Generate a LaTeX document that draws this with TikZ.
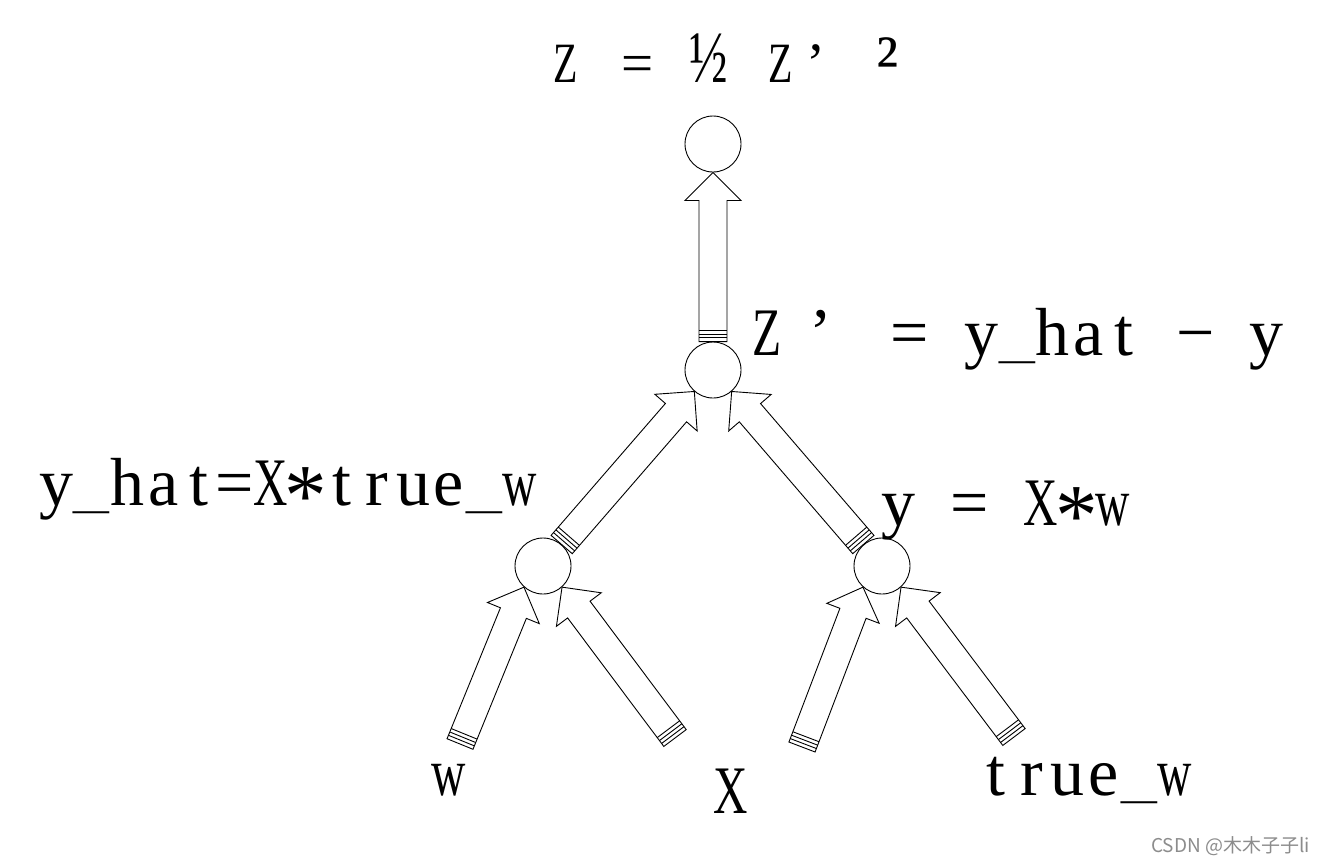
\documentclass[tikz,border=0pt]{standalone}
\usepackage{fontspec}
\usepackage{graphicx}
\usetikzlibrary{calc, positioning}
\newfontfamily\eqfont{Liberation Serif}
\newfontfamily\capfont[FakeStretch=0.7]{Liberation Serif}
\newfontfamily\cjkfont{Noto Sans CJK SC}

% fixed-width character slots
\newlength\slotwidth \setlength\slotwidth{35.7pt}
\newcommand\slotted[1]{\slotloop#1\relax}
\def\slotloop#1{\ifx\relax#1\else\makebox[\slotwidth]{#1}\expandafter\slotloop\fi}
\newcommand\cX{{\capfont X}}
\newcommand\cZ{{\capfont Z}}
\newcommand\cw{{\capfont w}}
\newcommand\mulsign{\raisebox{-20pt}{\scalebox{1.25}[1.3]{*}}}
\newcommand\usc{\raisebox{-3pt}{\scalebox{1.05}[0.6]{\_}}}
\newcommand\minussign{−}
\newcommand\zquote{\makebox[0pt][l]{\hspace{7pt}’}}
\newcommand\halfsign{\scalebox{0.9}[1.3]{½}}
\newcommand\sqsign{\raisebox{-4pt}{\scalebox{1.3}{²}}}

\tikzset{
  op node/.style={
    circle, draw=black, line width=0.9pt,
    minimum size=56pt, inner sep=0pt
  },
  block arrow/.style={
    draw=black, line width=0.9pt, line join=miter
  },
  eq label/.style={
    font=\eqfont\fontsize{68pt}{70pt}\selectfont,
    inner sep=0pt, anchor=base west
  },
  eq small/.style={
    eq label, font=\eqfont\fontsize{57pt}{60pt}\selectfont
  },
  watermark text/.style={
    font=\cjkfont\fontsize{19pt}{20pt}\selectfont,
    text=black!45, inner sep=0pt, anchor=base east
  }
}

% hollow arrow with striped tail: #1 tail, #2 tip
\newcommand\blockarrow[2]{%
  \coordinate (ba-t) at (#1);
  \coordinate (ba-p) at (#2);
  \coordinate (ba-h) at ($(ba-p)!28pt!(ba-t)$);
  \draw[block arrow] ($(ba-t)!14pt!90:(ba-p)$) -- ($(ba-h)!14pt!90:(ba-p)$)
    -- ($(ba-h)!28pt!90:(ba-p)$) -- (ba-p) -- ($(ba-h)!28pt!-90:(ba-p)$)
    -- ($(ba-h)!14pt!-90:(ba-p)$) -- ($(ba-t)!14pt!-90:(ba-p)$) -- cycle;
  \foreach \off in {3.7pt,7.3pt,11pt}{
    \coordinate (ba-m) at ($(ba-t)!\off!(ba-p)$);
    \draw[block arrow] ($(ba-m)!14pt!90:(ba-p)$) -- ($(ba-m)!14pt!-90:(ba-p)$);
  }%
}

\begin{document}
\begin{tikzpicture}[x=1pt, y=-1pt, on grid]
  \path[fill=white] (0,0) rectangle (1323,863);

  % operation nodes
  \node (zdiff) [op node] at (713,370) {};
  \node (loss) [op node, above=226pt of zdiff] {};
  \node (yhat) [op node, below left=196pt and 170pt of zdiff] {};
  \node (ypred) [op node, below right=196pt and 169pt of zdiff] {};

  % free tails of the input arrows
  \coordinate (wtail) at (460,744);
  \coordinate (xtailL) at (675,738);
  \coordinate (xtailR) at (802,747);
  \coordinate (twtail) at (1014,737);

  \blockarrow{zdiff.north}{loss.south}
  \blockarrow{yhat.49}{zdiff.229}
  \blockarrow{ypred.131}{zdiff.311}
  \blockarrow{wtail}{yhat.228}
  \blockarrow{xtailL}{yhat.312}
  \blockarrow{xtailR}{ypred.228}
  \blockarrow{twtail}{ypred.312}

  % labels
  \node (losseq) [eq small] at (548,82) {\slotted{\cZ~=~\halfsign~\cZ’~\sqsign}};
  \node (zdeq) [eq label] at (749,355) {\slotted{\cZ\zquote~~=~y\usc hat~\minussign~y}};
  \node (yhateq) [eq label] at (38,505) {\slotted{y\usc hat=\cX\mulsign true\usc\cw}};
  \node (ypredeq) [eq label] at (880,525) {\slotted{y~=~\cX\mulsign\cw}};
  \node (wlab) [eq label, anchor=base] at (449,795) {\cw};
  \node (xlab) [eq label, anchor=base] at (731,813) {\cX};
  \node (twlab) [eq label] at (978,795) {\slotted{true\usc\cw}};
  \node (credit) [watermark text] at (1310,852) {CSDN @木木子子li};
\end{tikzpicture}
\end{document}
